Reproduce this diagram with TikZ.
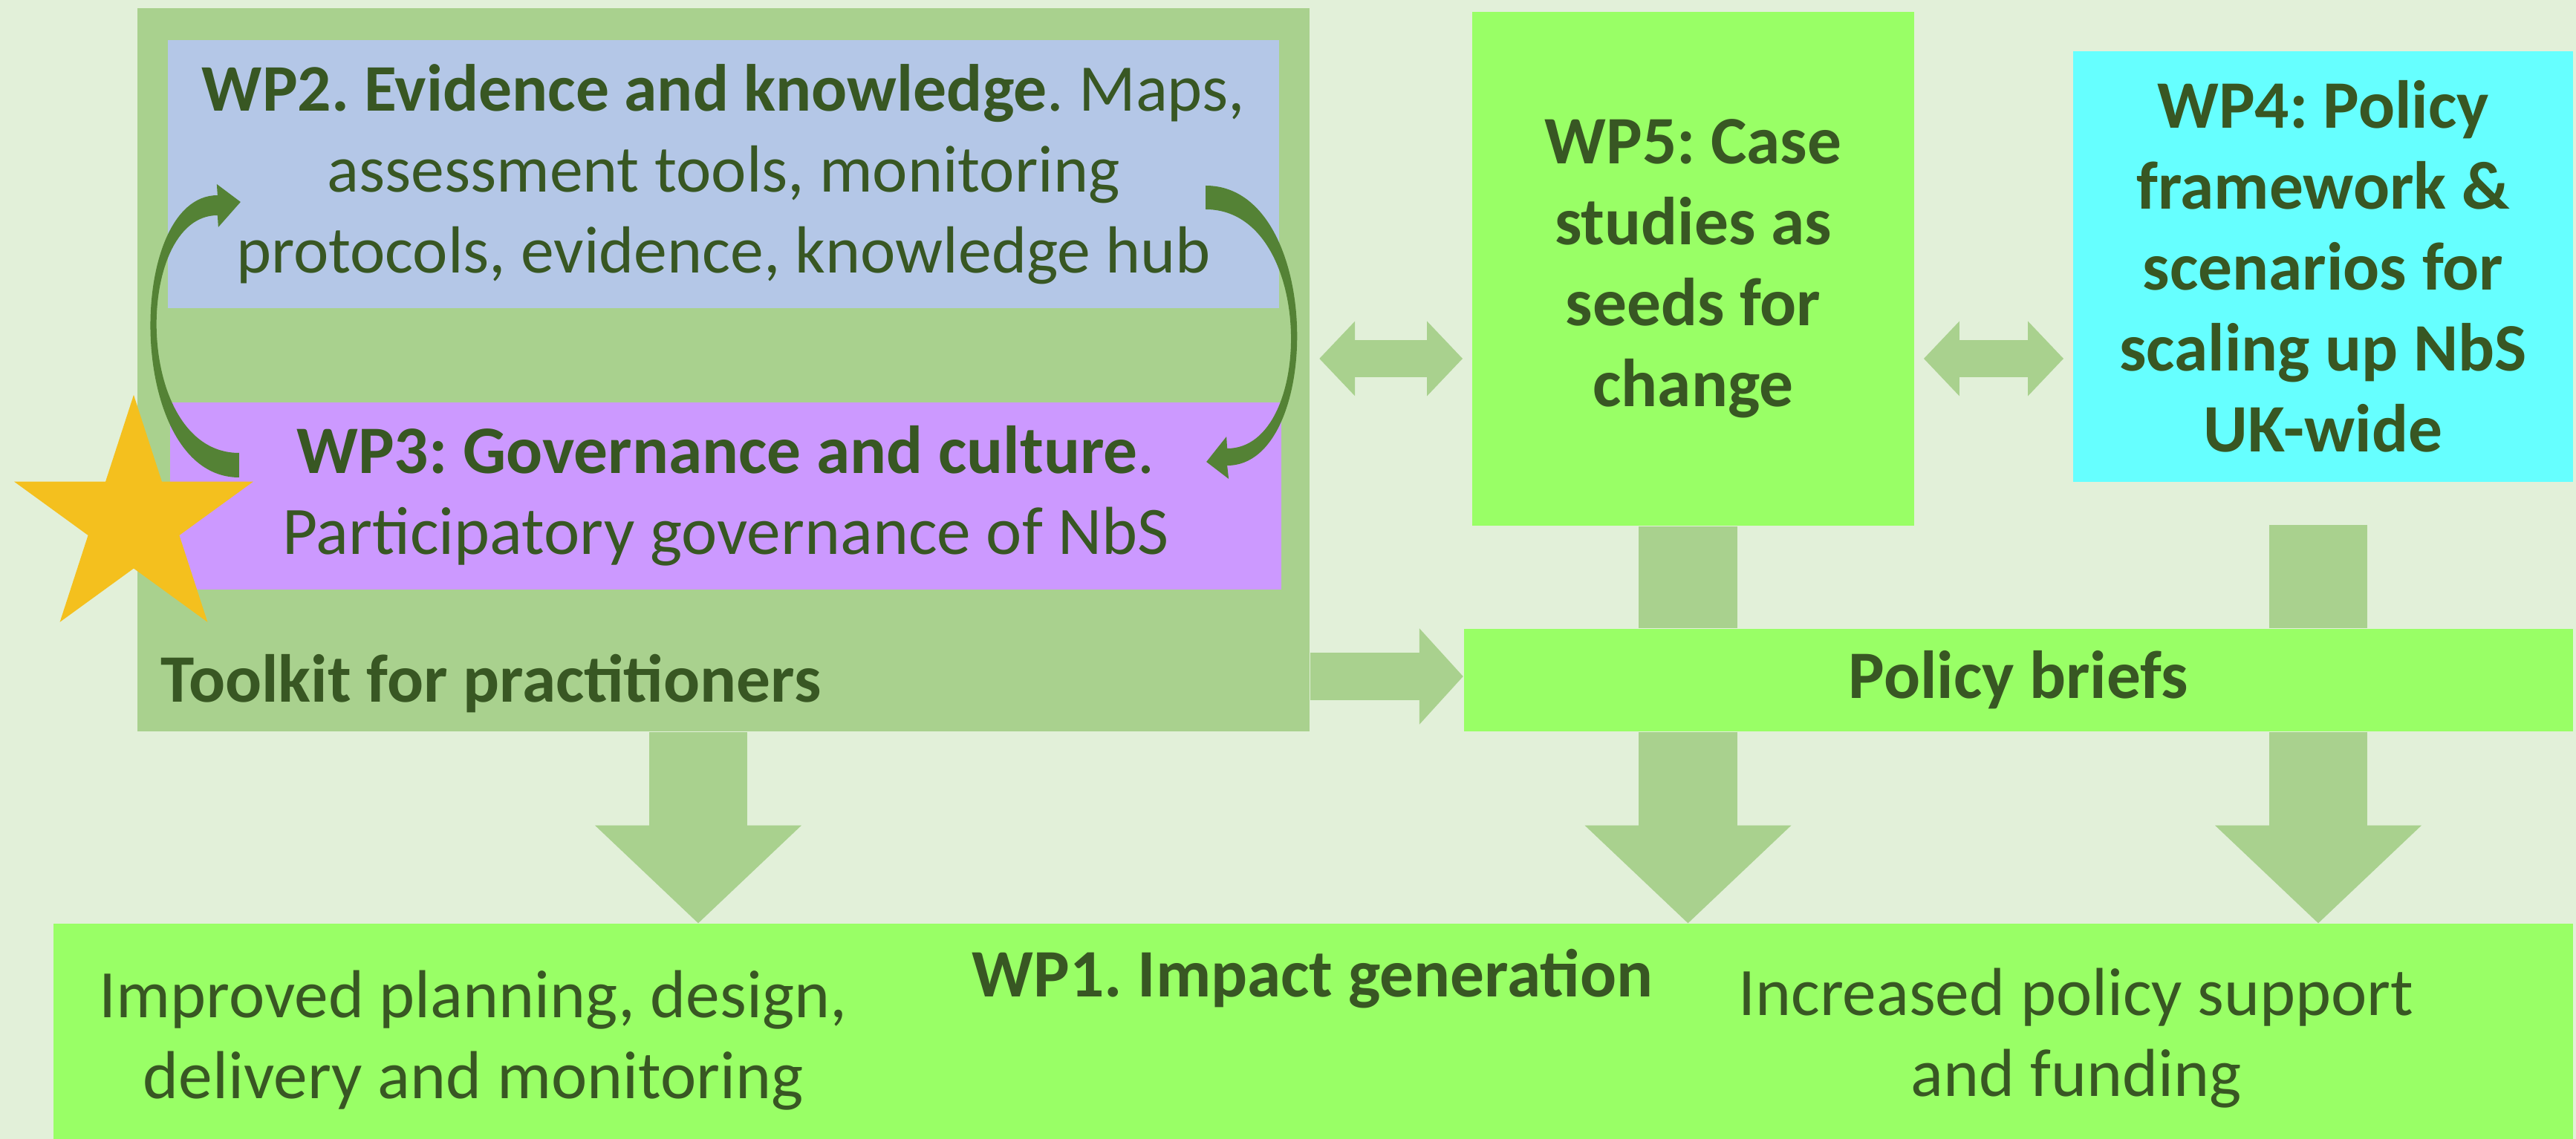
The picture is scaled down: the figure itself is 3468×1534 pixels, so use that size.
\documentclass[tikz,border=0pt]{standalone}
\usepackage{fontspec}
\setmainfont{Carlito}
\usepackage{xcolor}
\usetikzlibrary{arrows.meta, shapes.geometric}
\definecolor{paper}{HTML}{E2F0D9}
\definecolor{sage}{HTML}{A9D18E}
\definecolor{sky}{HTML}{B4C7E7}
\definecolor{lilac}{HTML}{CC99FF}
\definecolor{leaf}{HTML}{99FF66}
\definecolor{aqua}{HTML}{66FFFF}
\definecolor{ink}{HTML}{385723}
\definecolor{moss}{HTML}{548235}
\definecolor{amber}{HTML}{F4C01E}
\frenchspacing

\begin{document}
\begin{tikzpicture}[x=0.01cm, y=-0.01cm, text=ink, font=\fontsize{26}{31}\selectfont,
	box/.style = {inner sep=0pt, align=center},
	head/.style = {font=\fontsize{26}{31}\selectfont\bfseries},
	fat/.style = {sage, line width=1.32cm, -{Triangle[length=1.32cm, width=2.7cm]}},
	bar/.style = {sage, line width=1.32cm},
	push/.style = {sage, line width=0.63cm, -{Triangle[length=0.59cm, width=1.26cm]}},
	both/.style = {sage, line width=0.5cm, {Triangle[length=0.48cm, width=0.98cm]}-{Triangle[length=0.48cm, width=0.98cm]}, shorten <=0.12cm, shorten >=0.12cm}]
		\fill[paper] (0,0) rectangle (3468,1534);
		\useasboundingbox (0,0) rectangle (3468,1534);

		\node [box, fill=sage, minimum width=15.78cm, minimum height=9.74cm] (toolkit) at (974, 498) {};
		\node [box, fill=sky, minimum width=14.96cm, minimum height=3.61cm, font=\fontsize{25.5}{31}\selectfont] (wp2) at (974, 234.5)
			{\textbf{WP2. Evidence and knowledge}. Maps,\\ assessment tools, monitoring\\ protocols, evidence, knowledge hub};
		\node [box, fill=lilac, minimum width=14.96cm, minimum height=2.52cm] (wp3) at (977, 668)
			{\textbf{WP3: Governance and culture}.\\ Participatory governance of NbS};
		\node [head, anchor=west, inner sep=0pt] (tklabel) at (216, 921) {Toolkit for practitioners};

		\node [box, head, fill=leaf, minimum width=5.95cm, minimum height=6.92cm] (wp5) at (2279.5, 362)
			{WP5: Case\\ studies as\\ seeds for\\ change};
		\node [box, head, fill=aqua, minimum width=6.73cm, minimum height=5.8cm] (wp4) at (3127.5, 359)
			{WP4: Policy\\ framework \&\\ scenarios for\\ scaling up NbS\\ UK-wide};
		\node [box, head, fill=leaf, minimum width=14.93cm, minimum height=1.38cm] (policy) at (2717.5, 916) {Policy briefs};

		\node [box, fill=leaf, minimum width=33.9cm, minimum height=2.95cm] (wp1) at (1767.5, 1392) {};
		\node [head, inner sep=0pt] (wp1title) at (1767, 1318) {WP1. Impact generation};
		\node [align=center, inner sep=0pt] (practice) at (637, 1401) {Improved planning, design,\\ delivery and monitoring};
		\node [align=center, inner sep=0pt] (support) at (2795, 1398) {Increased policy support\\ and funding};

		\draw[fat] ([xshift=-0.34cm]toolkit.south) -- ([xshift=-0.34cm]toolkit.south |- wp1.north);
		\draw[bar] ([xshift=-0.07cm]wp5.south) -- ([xshift=-0.07cm]wp5.south |- policy.north);
		\draw[fat] ([xshift=-0.07cm]wp5.south |- policy.south) -- ([xshift=-0.07cm]wp5.south |- wp1.north);
		\draw[bar] ([xshift=-0.065cm, yshift=-0.57cm]wp4.south) -- ([xshift=-0.065cm]wp4.south |- policy.north);
		\draw[fat] ([xshift=-0.065cm]wp4.south |- policy.south) -- ([xshift=-0.065cm]wp4.south |- wp1.north);
		\draw[push] (toolkit.east |- 0,911) -- (policy.west |- 0,911);
		\draw[both] (toolkit.east |- 0,483) -- (wp5.west |- 0,483);
		\draw[both] (wp5.east |- 0,483) -- (wp4.west |- 0,483);

		% curved arrows between WP3 and WP2
		\fill[moss] ([shift={(94,-25)}]wp3.west) .. controls +(-154,0) and +(-125,0) .. ([shift={(68,28.5)}]wp2.west)
			-- ++(-1,-15) -- ++(32,24) -- ++(-30,34) -- ++(-1,-16)
			.. controls +(-114,0) and +(-143,0) .. ([shift={(94,-58)}]wp3.west) -- cycle;
		\fill[moss] ([shift={(-100,15.5)}]wp2.east) .. controls +(159,0) and +(130,0) .. ([shift={(-74,-41)}]wp3.east)
			-- ++(2,18) -- ++(-30,-23) -- ++(27,-34) -- ++(1,16)
			.. controls +(119,0) and +(148,0) .. ([shift={(-100,47.5)}]wp2.east) -- cycle;

		\node [star, star points=5, star point ratio=2.618, minimum size=3.38cm, inner sep=0pt, fill=amber] (star) at (180, 701) {};
\end{tikzpicture}
\end{document}
